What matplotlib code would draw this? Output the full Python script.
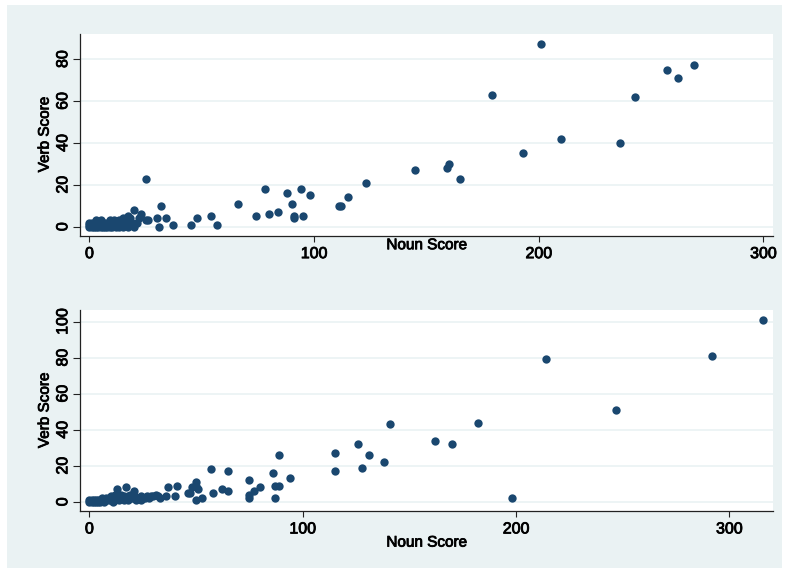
"""Scatter plots of verb score against noun score."""
import matplotlib
matplotlib.use("Agg")
import matplotlib.pyplot as plt
import matplotlib.patheffects as pe
from matplotlib.patches import Rectangle

# top panel
noun_top = [0, 0, 0, 1, 1, 1, 2, 2, 3, 3, 4, 4, 5, 5, 5, 6, 6, 7, 7, 8, 8, 9, 9,
            10, 10, 11, 11, 12, 12, 13, 13, 14, 14, 15, 15, 16, 16, 17, 18, 19,
            21, 22,
            17, 20, 25, 32, 20, 23, 17, 26, 25, 30, 31, 34, 37, 45, 48, 54, 57,
            66, 74, 78, 80, 84, 88, 90, 91, 91, 94, 95, 98, 111, 112, 115, 123,
            145, 159, 160, 165, 179, 193, 201, 210, 236, 243, 257, 262, 269]
verb_top = [0, 1, 2, 0, 1, 2, 0, 1, 0, 3, 1, 0, 0, 2, 3, 1, 0, 0, 2, 1, 0, 0, 3,
            1, 0, 2, 3, 0, 1, 3, 0, 2, 1, 0, 4, 2, 3, 1, 4, 2,
            2, 4,
            0, 0, 23, 10, 8, 6, 5, 3, 3, 4, 0, 4, 1, 1, 4, 5, 1,
            11, 5, 18, 6, 7, 16, 11, 5, 4, 18, 5, 15, 10, 10, 14, 21,
            27, 28, 30, 23, 63, 35, 87, 42, 40, 62, 75, 71, 77]

# bottom panel
noun_bottom = [0, 0, 1, 1, 2, 2, 3, 3, 4, 4, 5, 5, 6, 6, 7, 7, 8, 8, 9, 9, 10, 10,
               11, 11, 12, 12, 13, 13, 14, 14, 15, 15, 16, 16, 17, 17, 18, 18,
               19, 19, 20, 21, 21, 22, 23, 24, 24, 25, 26, 27, 28, 29, 30, 31,
               32, 33,
               36, 37, 40, 41, 46, 47, 48, 50, 50, 51, 50, 53, 57, 58, 62, 65,
               65, 75, 75, 75, 77, 80, 86, 87, 89, 87, 89, 94, 115, 115, 126,
               128, 131, 138, 141, 162, 170, 182, 198, 214, 247, 292, 316]
verb_bottom = [0, 1, 0, 1, 0, 1, 0, 1, 0, 1, 1, 0, 1, 2, 0, 1, 1, 2, 2, 1, 1, 3,
               2, 0, 1, 4, 7, 2, 3, 1, 2, 4, 1, 3, 8, 2, 3, 1,
               4, 2, 2, 6, 3, 1, 2, 3, 1, 2, 2, 3, 2, 3, 3, 4,
               3, 2,
               3, 8, 3, 9, 5, 5, 8, 11, 9, 7, 1, 2, 18, 5, 7, 17,
               6, 12, 4, 2, 6, 8, 16, 9, 9, 2, 26, 13, 27, 17, 32,
               19, 26, 22, 43, 34, 32, 44, 2, 79, 51, 81, 101]

x_ticks = [0, 100, 200, 300]
y_ticks_top = [0, 20, 40, 60, 80]
y_ticks_bottom = [0, 20, 40, 60, 80, 100]

NAVY = "#1a476f"
PANEL = "#eaf2f3"
HEAVY = [pe.withStroke(linewidth=0.6, foreground="black")]

plt.rcParams["font.family"] = ["Liberation Sans", "DejaVu Sans"]
plt.rcParams["font.size"] = 11


def style_axis(ax, xlim, ylim, yticks, xlabel_y):
    """Apply the stata-like look to one panel."""
    ax.set_xlim(*xlim)
    ax.set_ylim(*ylim)
    ax.set_xticks(x_ticks)
    ax.set_yticks(yticks)
    ax.grid(axis="y", color=PANEL, linewidth=1.2)
    ax.set_axisbelow(True)
    for side in ("top", "right"):
        ax.spines[side].set_visible(False)
    for side in ("left", "bottom"):
        ax.spines[side].set_color("#222222")
        ax.spines[side].set_linewidth(0.9)
    ax.tick_params(axis="x", length=4.5, width=0.8, pad=3, color="#222222",
                   labelsize=11.5)
    ax.tick_params(axis="y", length=5, width=0.8, pad=2, color="#222222",
                   labelsize=11.5)
    for t in ax.get_yticklabels():
        t.set_rotation(90)
        t.set_va("center")
    for t in ax.get_xticklabels() + ax.get_yticklabels():
        t.set_path_effects(HEAVY)
    ax.set_xlabel("Noun Score", fontsize=11, path_effects=HEAVY)
    ax.set_ylabel("Verb Score", fontsize=11, path_effects=HEAVY)
    ax.xaxis.set_label_coords(0.5, xlabel_y)
    ax.yaxis.set_label_coords(-0.051, 0.5)
    ax.xaxis.label.set_va("center")
    ax.yaxis.label.set_va("center")


fig = plt.figure(figsize=(7.89, 5.79), dpi=100)
fig.patch.set_facecolor("white")
fig.patches.append(Rectangle((7 / 789, 1 - 568 / 579), 775 / 789, 563 / 579,
                             transform=fig.transFigure, facecolor=PANEL,
                             edgecolor="none", zorder=-10))

ax1 = fig.add_axes([0.1014, 0.5929, 0.8787, 0.3489])
ax1.scatter(noun_top, verb_top, s=36, color=NAVY, linewidths=0, zorder=3)
style_axis(ax1, (-4.2, 304.4), (-4.3, 92.1), y_ticks_top, -0.047)

ax2 = fig.add_axes([0.1014, 0.1174, 0.8787, 0.3472])
ax2.scatter(noun_bottom, verb_bottom, s=36, color=NAVY, linewidths=0, zorder=3)
style_axis(ax2, (-4.4, 320.6), (-5.1, 106.4), y_ticks_bottom, -0.157)

fig.savefig("out.png", dpi=100, facecolor=fig.get_facecolor())
plt.close(fig)
